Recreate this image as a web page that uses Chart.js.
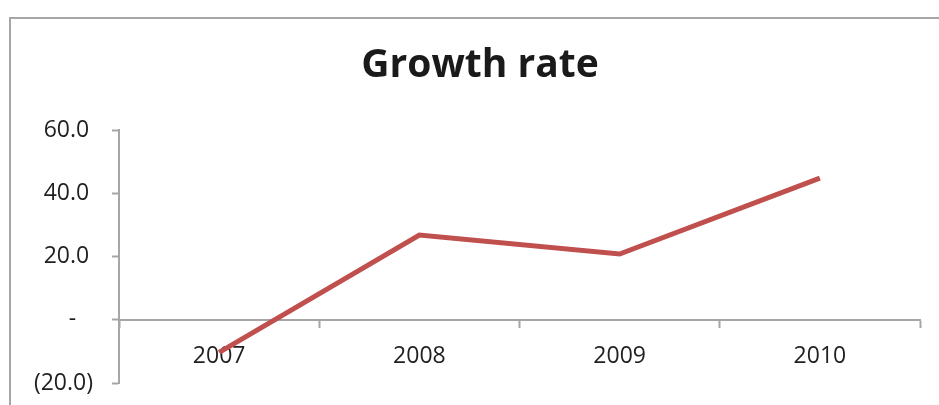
<!DOCTYPE html>
<html>
<head>
<meta charset="utf-8">
<script src="https://cdn.jsdelivr.net/npm/chart.js@4.4.0/dist/chart.umd.min.js"></script>
<style>
  html, body { margin: 0; padding: 0; background: #fff; overflow: hidden; }
  #frame {
    position: absolute; left: 9px; top: 17px;
    width: 2000px; height: 2000px;
    border: 2px solid #a6a6a6;
  }
  #wrap { position: absolute; left: 0; top: 0; width: 939px; height: 405px; }
</style>
</head>
<body>
<div id="frame"></div>
<div id="wrap"><canvas id="chart"></canvas></div>
<script>
const years = ['2007', '2008', '2009', '2010'];
const growthRate = [-10.3, 26.8, 20.8, 44.8];
const yTickValues = [60, 40, 20, 0, -20];
const chartTitle = 'Growth rate';

// accounting-style labels: negatives in brackets, zero as a dash
function formatTick(v) {
  if (v === 0) return '-\u2007\u2009';
  if (v < 0) return '(' + Math.abs(v).toFixed(1) + ')';
  return v.toFixed(1) + '\u2009';
}

const axisColor = '#a6a6a6';
const textColor = '#1f1f1f';

// title sits off-centre relative to the canvas, so draw it by hand
const titlePlugin = {
  id: 'offsetTitle',
  afterDraw(chart) {
    const ctx = chart.ctx;
    ctx.save();
    ctx.font = 'bold 39px "Open Sans"';
    ctx.fillStyle = '#1a1a1a';
    ctx.textAlign = 'center';
    ctx.textBaseline = 'alphabetic';
    ctx.fillText(chartTitle, 480, 77);
    ctx.restore();
  },
};

new Chart(document.getElementById('chart'), {
  type: 'line',
  data: {
    labels: years,
    datasets: [{
      label: chartTitle,
      data: growthRate,
      borderColor: '#c0504d',
      borderWidth: 5,
      pointRadius: 0,
      tension: 0,
      fill: false,
    }],
  },
  plugins: [titlePlugin],
  options: {
    responsive: true,
    maintainAspectRatio: false,
    animation: false,
    layout: { padding: { left: 0, right: 19, top: 130, bottom: 22 } },
    plugins: {
      legend: { display: false },
      tooltip: { enabled: false },
      title: { display: false },
    },
    scales: {
      x: {
        type: 'category',
        position: { y: 0 },
        offset: true,
        // the category axis crosses at zero inside the plot, so it takes no layout room
        afterFit: (scale) => { scale.height = 0; },
        border: { display: true, color: axisColor, width: 2 },
        grid: {
          offset: true,
          drawOnChartArea: false,
          drawTicks: true,
          tickLength: 7,
          tickColor: axisColor,
          tickWidth: 2,
        },
        ticks: {
          color: textColor,
          padding: 16,
          maxRotation: 0,
          font: { family: 'Open Sans', size: 23 },
        },
      },
      y: {
        min: -20,
        max: 60,
        afterBuildTicks: (scale) => {
          scale.ticks = yTickValues.map((v) => ({ value: v }));
        },
        afterFit: (scale) => {
          scale.width = 119;
          // layout padding already leaves room for the end labels
          scale.paddingTop = 0;
          scale.paddingBottom = 0;
        },
        border: { display: true, color: axisColor, width: 2 },
        grid: {
          drawOnChartArea: false,
          drawTicks: true,
          tickLength: 7,
          tickColor: axisColor,
          tickWidth: 2,
        },
        ticks: {
          color: textColor,
          padding: 19,
          callback: (v) => formatTick(v),
          font: { family: 'Open Sans', size: 23 },
        },
      },
    },
  },
});
</script>
</body>
</html>
